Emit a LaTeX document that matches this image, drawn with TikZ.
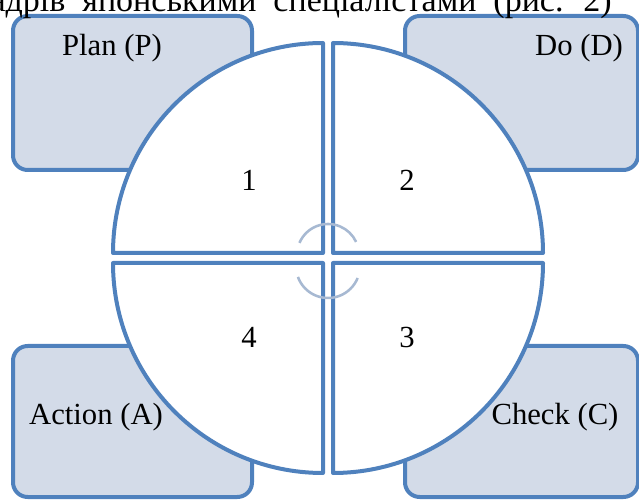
\documentclass[tikz,border=0pt]{standalone}
\usepackage{fontspec}
\setmainfont{Liberation Serif}
\definecolor{pdcaline}{HTML}{4F81BD}
\definecolor{pdcafill}{HTML}{D3DBE8}
\definecolor{pdcaarc}{HTML}{A7B9D2}
\begin{document}
\begin{tikzpicture}[
        x=0.75pt, y=0.75pt,
        box/.style={draw=pdcaline, fill=pdcafill, line width=3pt, rounded corners=11pt},
        quad/.style={draw=pdcaline, fill=white, line width=3pt, line join=round},
        turn/.style={draw=pdcaarc, line width=1.9pt},
        lbl/.style={font=\fontsize{23}{28}\selectfont, anchor=base, inner sep=0pt}
    ]
    \clip (0,0) rectangle (639,500);

    % corner boxes
    \draw[box] (13,330) rectangle (252,484);
    \draw[box] (405,330) rectangle (638,484);
    \draw[box] (13,3) rectangle (252,154);
    \draw[box] (405,3) rectangle (638,154);

    % four quarters of the wheel
    \draw[quad] (323,247) -- (113,247) arc[start angle=180, end angle=90, radius=210] -- cycle;
    \draw[quad] (333,247) -- (333,457) arc[start angle=90, end angle=0, radius=210] -- cycle;
    \draw[quad] (333,237) -- (543,237) arc[start angle=0, end angle=-90, radius=210] -- cycle;
    \draw[quad] (323,237) -- (323,27) arc[start angle=-90, end angle=-180, radius=210] -- cycle;

    % turning arcs in the middle
    \coordinate (hubtop) at (328,245);
    \coordinate (hubbot) at (328,234);
    \draw[turn] (hubtop) ++(157:31) arc[start angle=157, end angle=25, radius=31];
    \draw[turn] (hubbot) ++(200:32) arc[start angle=200, end angle=338, radius=32];

    \node[lbl, font=\fontsize{25.5}{30}\selectfont, anchor=base east] (head) at (612,488.5)
        {\spaceskip=0.5em\relax кадрів японськими спеціалістами (рис. 2)};

    \node[lbl] (plan)   at (112,444) {Plan (P)};
    \node[lbl] (do)     at (579,444) {Do (D)};
    \node[lbl] (action) at (96,75)   {Action (A)};
    \node[lbl] (check)  at (555,75)  {Check (C)};

    \node[lbl] (q1) at (249,309) {1};
    \node[lbl] (q2) at (407,309) {2};
    \node[lbl] (q4) at (249,152) {4};
    \node[lbl] (q3) at (407,152) {3};
\end{tikzpicture}
\end{document}
